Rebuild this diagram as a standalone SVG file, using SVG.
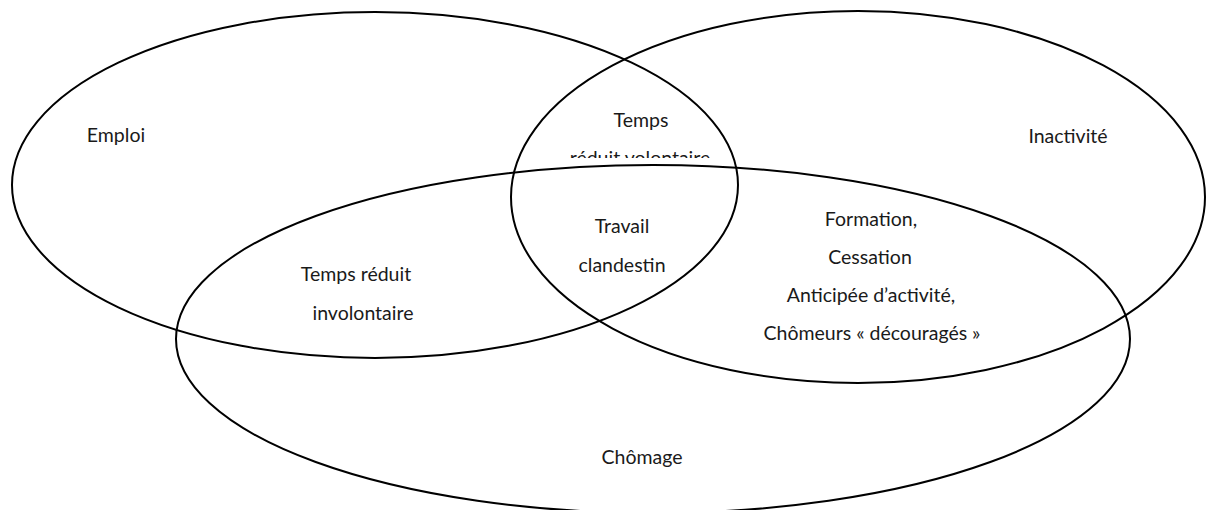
<svg xmlns="http://www.w3.org/2000/svg" width="1206" height="510" viewBox="0 0 1206 510">
<style>
.set{fill:none;stroke:#000;stroke-width:2}
text{font-family:Lato,"Open Sans","Liberation Sans",sans-serif;font-size:19.5px;fill:#1a1a1a;text-anchor:middle}
</style>
<defs>
<clipPath id="clipTop"><rect x="540" y="100" width="200" height="58"/></clipPath>
</defs>
<rect width="1206" height="510" fill="#fff"/>
<g id="connectors"></g>
<g id="emploi">
<ellipse class="set" cx="375" cy="185" rx="363" ry="173"/>
<text x="116" y="142">Emploi</text>
</g>
<g id="inactivite">
<ellipse class="set" cx="858" cy="197" rx="347" ry="186"/>
<text x="1068" y="143">Inactivité</text>
</g>
<g id="chomage">
<ellipse class="set" cx="653" cy="339" rx="477" ry="174"/>
<text x="642" y="464">Chômage</text>
</g>
<g id="temps-volontaire">
<text x="641" y="127">Temps</text>
<text x="640" y="165" clip-path="url(#clipTop)">réduit volontaire</text>
</g>
<g id="travail-clandestin">
<text x="622" y="233">Travail</text>
<text x="622" y="272">clandestin</text>
</g>
<g id="temps-involontaire">
<text x="356" y="281">Temps réduit</text>
<text x="363" y="320">involontaire</text>
</g>
<g id="formation">
<text x="871" y="226">Formation,</text>
<text x="870" y="264">Cessation</text>
<text x="871" y="302">Anticipée d’activité,</text>
<text x="872" y="340">Chômeurs « découragés »</text>
</g>
</svg>
